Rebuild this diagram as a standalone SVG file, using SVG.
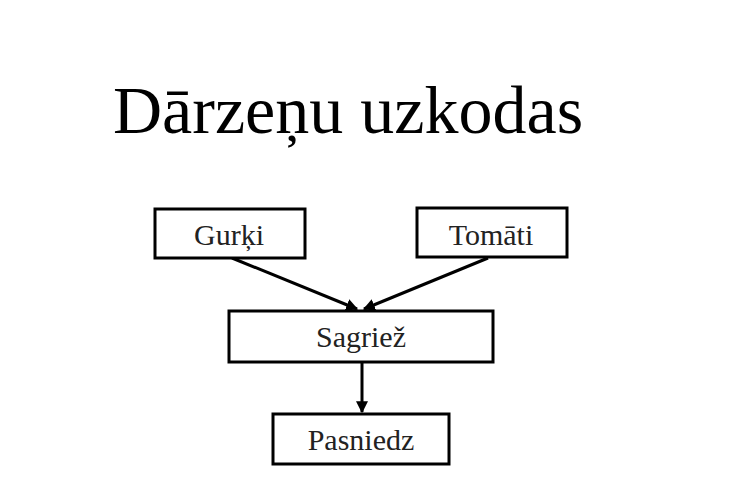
<svg xmlns="http://www.w3.org/2000/svg" width="744" height="496" viewBox="0 0 744 496">
<defs>
<style>
.box{fill:#fff;stroke:#000;stroke-width:3}
.lbl{font-family:"Liberation Serif","Times New Roman",serif;font-size:30px;fill:#222;text-anchor:middle}
.title{font-family:"Liberation Serif","Times New Roman",serif;font-size:68px;fill:#000}
.con{stroke:#000;stroke-width:3;fill:none;marker-end:url(#ah)}
</style>
<marker id="ah" viewBox="0 0 10 10" refX="9" refY="5" markerWidth="4" markerHeight="4" orient="auto" markerUnits="strokeWidth">
<path d="M0,0 L10,5 L0,10 z" fill="#000"/>
</marker>
</defs>
<rect width="744" height="496" fill="#fff"/>
<text class="title" x="113" y="133">Dārzeņu uzkodas</text>
<g id="connectors">
<line class="con" x1="232" y1="258" x2="357" y2="309"/>
<line class="con" x1="488" y1="258" x2="364" y2="309"/>
<line class="con" x1="362" y1="362" x2="362" y2="412"/>
</g>
<g id="gurki"><rect class="box" x="155" y="209" width="150" height="49"/><text class="lbl" x="229" y="245">Gurķi</text></g>
<g id="tomati"><rect class="box" x="417" y="208" width="150" height="49"/><text class="lbl" x="491" y="245">Tomāti</text></g>
<g id="sagriez"><rect class="box" x="229" y="311" width="264" height="51"/><text class="lbl" x="361" y="347">Sagriež</text></g>
<g id="pasniedz"><rect class="box" x="273" y="414" width="176" height="50"/><text class="lbl" x="361" y="450">Pasniedz</text></g>
</svg>
